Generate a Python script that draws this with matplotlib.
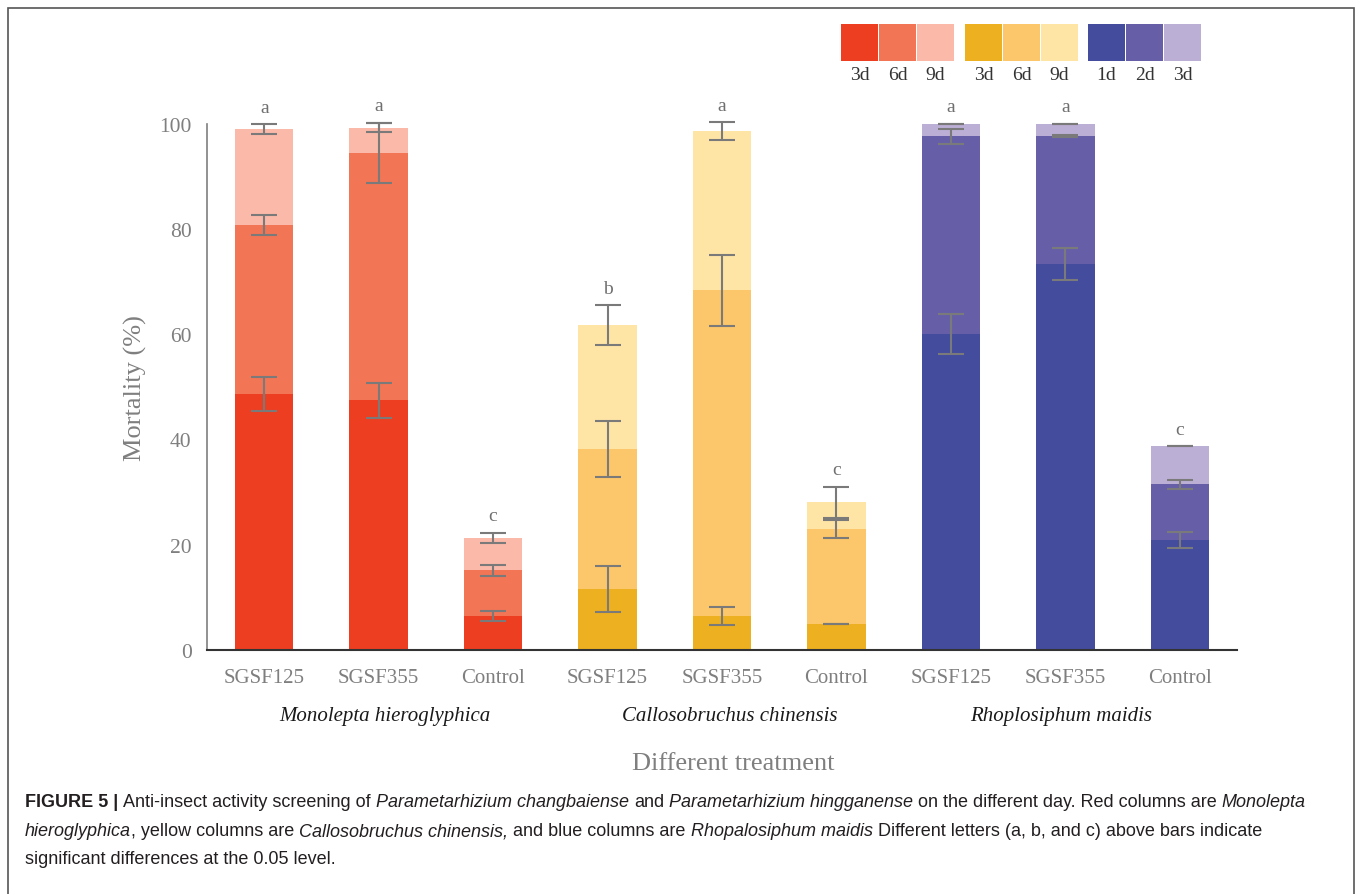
import matplotlib
matplotlib.use('Agg')
import matplotlib.pyplot as plt
import matplotlib.patches as mpatches
import numpy as np

W, H = 1357, 895

# nine treatments, three per insect species
treatments = ['SGSF125', 'SGSF355', 'Control'] * 3
species = ['Monolepta hieroglyphica', 'Callosobruchus chinensis', 'Rhoplosiphum maidis']

# cumulative mortality (%) at the three observation days
mort_t1 = [48.6, 47.4, 6.5, 11.6, 6.5, 4.9, 60.0, 73.3, 20.9]
mort_t2 = [80.8, 94.4, 15.1, 38.1, 68.3, 23.0, 97.6, 97.6, 31.5]
mort_t3 = [99.0, 99.2, 21.3, 61.7, 98.5, 28.1, 100.0, 100.0, 38.7]

# standard errors
err_t1 = [3.2, 3.4, 1.0, 4.4, 1.7, 0.05, 3.85, 3.05, 1.45]
err_t2 = [1.9, 5.7, 0.95, 5.3, 6.7, 1.65, 1.4, 0.2, 0.85]
err_t3 = [0.9, 0.9, 0.95, 3.8, 1.7, 2.95, 0.0, 0.0, 0.0]

letters = ['a', 'a', 'c', 'b', 'a', 'c', 'a', 'a', 'c']

day_labels = [['3d', '6d', '9d'], ['3d', '6d', '9d'], ['1d', '2d', '3d']]
shades = [['#EE3E22', '#F27556', '#FBB9AA'],
          ['#EDB020', '#FCC76B', '#FEE5A6'],
          ['#444C9E', '#665FA8', '#BCAFD5']]

serif = 'Liberation Serif'
grey = '#7f7f7f'

fig = plt.figure(figsize=(W / 100, H / 100), dpi=100)
ax = fig.add_axes([207 / W, 1 - 651 / H, (1237 - 207) / W, (651 - 124.5) / H])

x = np.arange(len(treatments))
levels = [mort_t1, mort_t2, mort_t3]
errs = [err_t1, err_t2, err_t3]
bottom = np.zeros(len(x))
for k in range(3):
    top = np.array(levels[k])
    cols = [shades[i // 3][k] for i in range(len(x))]
    ax.bar(x, top - bottom, bottom=bottom, width=0.51, color=cols, zorder=2)
    bottom = top

for k in range(3):
    ax.errorbar(x, levels[k], yerr=errs[k], fmt='none', ecolor='#7a7a7a',
                elinewidth=1.5, capsize=9.5, capthick=1.5, zorder=3, clip_on=False)

for i in range(len(x)):
    ax.annotate(letters[i], (x[i], mort_t3[i] + err_t3[i]), xytext=(0, 9),
                textcoords='offset points', ha='center', va='baseline',
                fontsize=14, family=serif, color='#6f6f6f', annotation_clip=False)

ax.set_xlim(-0.5, 8.5)
ax.set_ylim(0, 100)
ax.set_yticks(np.arange(0, 101, 20))
ax.set_xticks(x)
ax.set_xticklabels(treatments)
ax.tick_params(length=0, labelsize=15, labelcolor=grey)
ax.tick_params(axis='y', pad=11, labelsize=15.5)
ax.tick_params(axis='x', pad=13)
for lab in ax.get_xticklabels() + ax.get_yticklabels():
    lab.set_family(serif)
for s in ['top', 'right']:
    ax.spines[s].set_visible(False)
ax.spines['left'].set_color(grey)
ax.spines['left'].set_linewidth(1.2)
ax.spines['bottom'].set_color('#333333')
ax.spines['bottom'].set_linewidth(1.5)

# species names under each group of three bars
name_x = [1.05, 4.07, 6.96]
for g, name in enumerate(species):
    ax.text(name_x[g], -0.125, name, transform=ax.get_xaxis_transform(),
            ha='center', va='center', fontsize=15, style='italic',
            family=serif, color='#1a1a1a')

fig.text(733 / W, 1 - 764 / H, 'Different treatment', ha='center', va='center',
         fontsize=19, family=serif, color=grey)
fig.text(135 / W, 1 - 388 / H, 'Mortality (%)', ha='center', va='center',
         rotation=90, fontsize=19, family=serif, color=grey)

# colour key in the top right corner
group_x0 = [841, 965, 1088]
for g in range(3):
    for k in range(3):
        x0 = group_x0[g] + 38 * k
        fig.add_artist(mpatches.Rectangle((x0 / W, 1 - 62 / H), 37 / W, 37 / H,
                                          transform=fig.transFigure,
                                          color=shades[g][k], lw=0))
        fig.text((x0 + 18.5) / W, 1 - 76 / H, day_labels[g][k], ha='center',
                 va='center', fontsize=14, family=serif, color='#333333')

# outer frame
fig.add_artist(mpatches.Rectangle((8 / W, -0.02), (1354 - 8) / W, (H - 9) / H + 0.02,
                                  transform=fig.transFigure, fill=False,
                                  edgecolor='#555555', lw=1.2))

# caption with mixed bold / italic runs
cap_font = ['Liberation Sans Narrow', 'Liberation Sans']
renderer = fig.canvas.get_renderer()
line1 = [('FIGURE 5 |', 'normal', 'bold', True),
         ('Anti-insect activity screening of', 'normal', 'normal', True),
         ('Parametarhizium changbaiense', 'italic', 'normal', True),
         ('and', 'normal', 'normal', True),
         ('Parametarhizium hingganense', 'italic', 'normal', True),
         ('on the different day. Red columns are', 'normal', 'normal', True),
         ('Monolepta', 'italic', 'normal', False)]
line2 = [('hieroglyphica', 'italic', 'normal', False),
         (', yellow columns are', 'normal', 'normal', True),
         ('Callosobruchus chinensis,', 'italic', 'normal', True),
         ('and blue columns are', 'normal', 'normal', True),
         ('Rhopalosiphum maidis', 'italic', 'normal', True),
         ('Different letters (a, b, and c) above bars indicate', 'normal', 'normal', False)]
line3 = [('significant differences at the 0.05 level.', 'normal', 'normal', False)]


def draw_line(runs, y_px, size):
    arts = []
    xpos = 25
    sp = fig.text(0, 0, 'a a', fontsize=size, family=cap_font)
    sp2 = fig.text(0, 0, 'aa', fontsize=size, family=cap_font)
    gap = sp.get_window_extent(renderer).width - sp2.get_window_extent(renderer).width
    sp.remove()
    sp2.remove()
    for txt, style, weight, space in runs:
        t = fig.text(xpos / W, 1 - y_px / H, txt, fontsize=size, style=style,
                     weight=weight, family=cap_font, ha='left', va='center',
                     color='#231f20')
        xpos = t.get_window_extent(renderer).x1 + (gap if space else 0)
        arts.append(t)
    return arts, xpos


arts, end = draw_line(line1, 803, 10)
cap_size = 10 * (1310 - 25) / (end - 25)
for a in arts:
    a.remove()
draw_line(line1, 803, cap_size)
draw_line(line2, 832, cap_size)
draw_line(line3, 860, cap_size)

fig.savefig('out.png', dpi=100)
